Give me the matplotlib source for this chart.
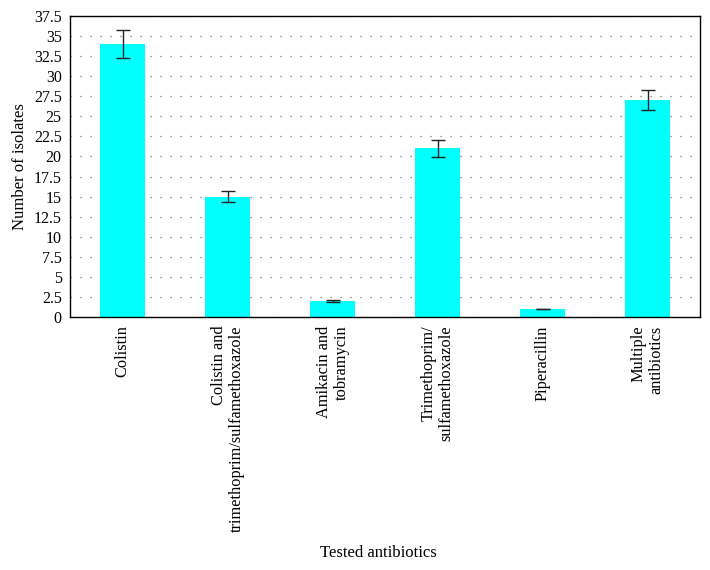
import matplotlib.pyplot as plt
import numpy as np

categories = ['Colistin',
              'Colistin and\ntrimethoprim/sulfamethoxazole',
              'Amikacin and\ntobramycin',
              'Trimethoprim/\nsulfamethoxazole',
              'Piperacillin',
              'Multiple\nantibiotics']
isolates = [34, 15, 2, 21, 1, 27]
errors = [1.7, 0.7, 0.12, 1.1, 0.05, 1.25]
yticks = np.arange(0, 37.6, 2.5)

plt.rcParams['font.family'] = ['Liberation Serif', 'DejaVu Serif']

fig = plt.figure(figsize=(7.1, 5.7), dpi=100)
ax = fig.add_axes([70/710, 253/570, 630/710, 301/570])

x = np.arange(len(categories))
ax.bar(x, isolates, width=0.43, color='#00FFFF', zorder=2)
ax.errorbar(x, isolates, yerr=errors, fmt='none', ecolor='#222222',
            elinewidth=1, capsize=5, capthick=1, zorder=3)

ax.set_xlim(-0.5, len(categories) - 0.5)
ax.set_ylim(0, 37.5)
ax.set_yticks(yticks)
ax.set_yticklabels([('%g' % t) for t in yticks], fontsize=11.5)
ax.set_xticks(x)
ax.set_xticklabels(categories, rotation=90, fontsize=11.8, ha='center', va='top',
                   multialignment='right', linespacing=1.15)
ax.tick_params(axis='both', length=0)
ax.tick_params(axis='x', pad=6)
ax.tick_params(axis='y', pad=6)

ax.yaxis.grid(True, linestyle=(0, (1, 7)), color='#777777', linewidth=0.9, zorder=1)
ax.set_axisbelow(True)

for s in ax.spines.values():
    s.set_linewidth(1)
    s.set_color('black')

ax.set_ylabel('Number of isolates', fontsize=12)
ax.set_xlabel('Tested antibiotics', fontsize=12)
ax.xaxis.set_label_coords(0.49, -228/301)

plt.savefig('out.png', dpi=100)
